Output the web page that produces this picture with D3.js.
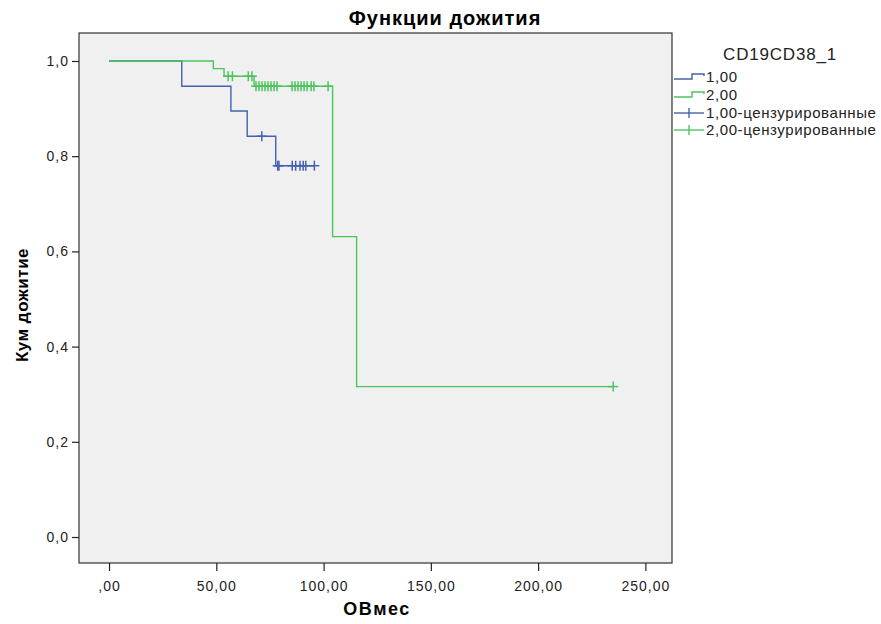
<!DOCTYPE html>
<html>
<head>
<meta charset="utf-8">
<script src="https://cdn.jsdelivr.net/npm/d3@7"></script>
<style>
  body { margin: 0; background: #fff; }
  svg text { font-family: "Liberation Sans", Arial, sans-serif; }
</style>
</head>
<body>
<div id="chart"></div>
<script>
// survival steps
const groupNames = ["1,00", "2,00"];
const eventTimes1 = [0, 33.9, 56.8, 64.4, 77.7];
const survival1 = [1.0, 0.947, 0.895, 0.842, 0.78];
const censorTimes1 = [71.2, 78.6, 79.2, 85.4, 87.0, 89.0, 90.5, 91.7, 95.7];

const eventTimes2 = [0, 48.6, 53.6, 67.6, 104.2, 115.4];
const survival2 = [1.0, 0.984, 0.968, 0.947, 0.631, 0.316];
const censorTimes2 = [55.5, 57.5, 64.9, 66.6,
  68.5, 69.9, 71.3, 72.7, 74.1, 75.5, 76.9, 78.3,
  85.3, 86.7, 88.1, 89.5, 90.9, 92.3, 94.2, 95.5, 102.1, 235.0];

const xTicks = [0, 50, 100, 150, 200, 250];
const xTickLabels = [",00", "50,00", "100,00", "150,00", "200,00", "250,00"];
const yTicks = [0, 0.2, 0.4, 0.6, 0.8, 1.0];
const yTickLabels = ["0,0", "0,2", "0,4", "0,6", "0,8", "1,0"];
const legendLabels = ["1,00", "2,00", "1,00-цензурированные", "2,00-цензурированные"];

const colors = ["#4560b2", "#4cc45c"];

const width = 881, height = 624;
const plot = {left: 79, top: 33, right: 672, bottom: 563};

const svg = d3.select("#chart").append("svg")
    .attr("width", width)
    .attr("height", height);

const x = d3.scaleLinear().domain([-14, 262.4]).range([plot.left, plot.right]);
const y = d3.scaleLinear().domain([-0.0546, 1.0588]).range([plot.bottom, plot.top]);

// plot background + frame
svg.append("rect")
    .attr("x", plot.left).attr("y", plot.top)
    .attr("width", plot.right - plot.left).attr("height", plot.bottom - plot.top)
    .attr("fill", "#f0f0f0")
    .attr("stroke", "#333").attr("stroke-width", 1.2);

// axes
const xAxis = svg.append("g")
    .attr("transform", `translate(0,${plot.bottom})`)
    .call(d3.axisBottom(x).tickValues(xTicks).tickSize(8).tickSizeOuter(0)
      .tickFormat((d, i) => xTickLabels[i]));
const yAxis = svg.append("g")
    .attr("transform", `translate(${plot.left},0)`)
    .call(d3.axisLeft(y).tickValues(yTicks).tickSize(7).tickSizeOuter(0)
      .tickFormat((d, i) => yTickLabels[i]));

[xAxis, yAxis].forEach(g => {
  g.select(".domain").remove();
  g.selectAll(".tick line").attr("stroke", "#222").attr("stroke-width", 1.2);
  g.selectAll(".tick text")
    .attr("fill", "#222")
    .style("font-size", "14px")
    .style("letter-spacing", "1px")
    .style("font-family", "'Liberation Sans', Arial, sans-serif");
});
xAxis.selectAll(".tick text").attr("dy", "1.2em");
yAxis.selectAll(".tick text").attr("x", -10);

// titles
svg.append("text")
    .attr("x", 445).attr("y", 25)
    .attr("text-anchor", "middle")
    .style("font-size", "20px").style("font-weight", "bold")
    .style("letter-spacing", "1px")
    .text("Функции дожития");

svg.append("text")
    .attr("x", 377).attr("y", 615)
    .attr("text-anchor", "middle")
    .style("font-size", "18px").style("font-weight", "bold")
    .style("letter-spacing", "1.5px")
    .text("ОВмес");

svg.append("text")
    .attr("transform", `translate(28,305) rotate(-90)`)
    .attr("text-anchor", "middle")
    .style("font-size", "17px").style("font-weight", "bold")
    .style("letter-spacing", "0.5px")
    .text("Кум дожитие");

// curves
const stepLine = d3.line()
    .x(d => x(d[0]))
    .y(d => y(d[1]))
    .curve(d3.curveStepAfter);

function survAt(times, surv, t) {
  let s = surv[0];
  times.forEach((tt, i) => { if (tt <= t) s = surv[i]; });
  return s;
}

const series = [
  {times: eventTimes1, surv: survival1, censor: censorTimes1},
  {times: eventTimes2, surv: survival2, censor: censorTimes2}
];

series.forEach((s, k) => {
  const lastT = d3.max(s.censor.concat(s.times));
  const pts = s.times.map((t, i) => [t, s.surv[i]]);
  pts.push([lastT, s.surv[s.surv.length - 1]]);
  svg.append("path")
    .datum(pts)
    .attr("fill", "none")
    .attr("stroke", colors[k])
    .attr("stroke-width", 1.4)
    .attr("d", stepLine);

  const g = svg.append("g").attr("stroke", colors[k]).attr("stroke-width", 1.5);
  s.censor.forEach(t => {
    const cx = x(t), cy = y(survAt(s.times, s.surv, t));
    g.append("line").attr("x1", cx).attr("x2", cx).attr("y1", cy - 5).attr("y2", cy + 5);
    g.append("line").attr("x1", cx - 5).attr("x2", cx + 5).attr("y1", cy).attr("y2", cy);
  });
});

// legend
const legend = svg.append("g");
legend.append("text")
    .attr("x", 780).attr("y", 60)
    .attr("text-anchor", "middle")
    .style("font-size", "17px")
    .style("letter-spacing", "0.8px")
    .attr("fill", "#222")
    .text("CD19CD38_1");

const legendY = [77, 95, 113, 130];
legendLabels.forEach((lab, i) => {
  const c = colors[i % 2];
  const ly = legendY[i];
  if (i < 2) {
    legend.append("path")
      .attr("d", `M674,${ly + 2}H692V${ly - 3}H704V${ly - 1}`)
      .attr("fill", "none").attr("stroke", c).attr("stroke-width", 1.4);
  } else {
    legend.append("line").attr("x1", 674).attr("x2", 704).attr("y1", ly).attr("y2", ly)
      .attr("stroke", c).attr("stroke-width", 1.4);
    legend.append("line").attr("x1", 689).attr("x2", 689).attr("y1", ly - 5).attr("y2", ly + 5)
      .attr("stroke", c).attr("stroke-width", 1.4);
  }
  legend.append("text")
    .attr("x", 706).attr("y", ly + 5)
    .style("font-size", "15px")
    .style("letter-spacing", "0.6px")
    .attr("fill", "#222")
    .text(lab);
});
</script>
</body>
</html>
